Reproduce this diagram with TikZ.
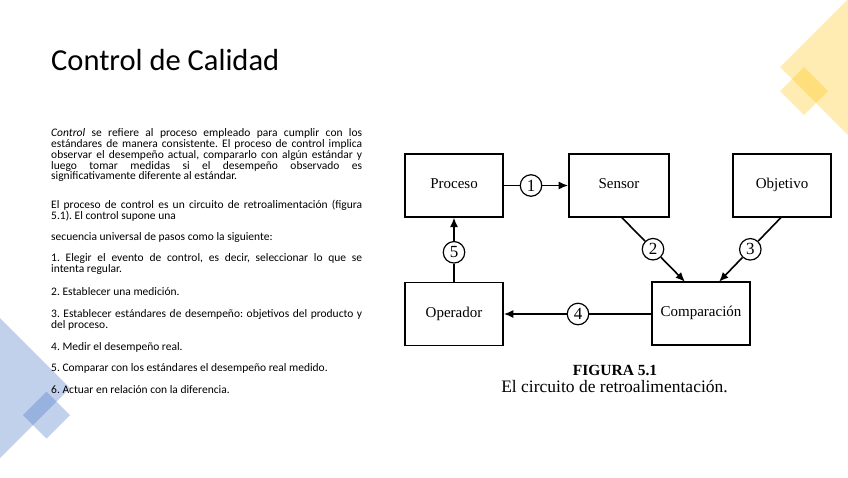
\documentclass[tikz,border=0pt]{standalone}
\usepackage{fontspec}
\setmainfont{Carlito}
\newfontfamily\figfont{Liberation Serif}
\usetikzlibrary{arrows.meta}
\definecolor{deco yellow}{HTML}{FFC000}
\definecolor{deco blue}{HTML}{4472C4}
\frenchspacing
\tikzset{
  txt/.style={anchor=base west, inner sep=0pt, font=\fontsize{11.5}{13}\selectfont},
  blk/.style={draw, line width=1.6pt, rectangle, minimum width=98pt, minimum height=62.5pt, text height=6pt, text depth=0pt, font=\figfont\fontsize{15}{17}\selectfont},
  num/.style={draw, line width=1.2pt, circle, minimum size=21.5pt, inner sep=0pt, font=\figfont\fontsize{17}{19}\selectfont},
  con/.style={line width=1.6pt},
  arr/.style={line width=1.6pt, -{Latex[length=9.5pt,width=8pt]}},
  decoy/.style={fill=deco yellow, fill opacity=0.3, draw=none},
  decob/.style={fill=deco blue, fill opacity=0.33, draw=none},
}
\newcommand{\jline}[1]{\makebox[311pt][s]{#1}}
\begin{document}
\begin{tikzpicture}[x=1pt,y=-1pt]
\useasboundingbox (0,0) rectangle (848,477);
% decorations
\fill[decoy] (780,67) -- (848,-1) -- (916,67) -- (848,135) -- cycle;
\fill[decoy] (780,91) -- (804,67) -- (828,91) -- (804,115) -- cycle;
\fill[decob] (-70,388) -- (0,318) -- (70,388) -- (0,458) -- cycle;
\fill[decob] (23,415) -- (46.5,391.5) -- (70,415) -- (46.5,438.5) -- cycle;
% title
\node[anchor=base west, inner sep=0pt, font=\fontsize{30.5}{34}\selectfont] (title) at (51,70) {Control de Calidad};
% body text
\node[txt] (t1) at (51,136.7) {\jline{\textit{Control} se refiere al proceso empleado para cumplir con los}};
\node[txt] (t2) at (51,147.5) {\jline{estándares de manera consistente. El proceso de control implica}};
\node[txt] (t3) at (51,158.3) {\jline{observar el desempeño actual, compararlo con algún estándar y}};
\node[txt] (t4) at (51,169.0) {\jline{luego tomar medidas si el desempeño observado es}};
\node[txt] (t5) at (51,179.8) {significativamente diferente al estándar.};
\node[txt] (t6) at (51,208.3) {\jline{El proceso de control es un circuito de retroalimentación (figura}};
\node[txt] (t7) at (51,219.0) {5.1). El control supone una};
\node[txt] (t8) at (51,240.0) {secuencia universal de pasos como la siguiente:};
\node[txt] (t9) at (51,261.7) {\jline{1. Elegir el evento de control, es decir, seleccionar lo que se}};
\node[txt] (t10) at (51,272.5) {intenta regular.};
\node[txt] (t11) at (51,295.0) {2. Establecer una medición.};
\node[txt] (t12) at (51,317.0) {\jline{3. Establecer estándares de desempeño: objetivos del producto y}};
\node[txt] (t13) at (51,328.0) {del proceso.};
\node[txt] (t14) at (51,350.0) {4. Medir el desempeño real.};
\node[txt] (t15) at (51,371.7) {5. Comparar con los estándares el desempeño real medido.};
\node[txt] (t16) at (51,393.3) {6. Actuar en relación con la diferencia.};
% diagram boxes
\node[blk] (pro) at (454,185.5) {Proceso};
\node[blk, minimum width=100pt] (sen) at (619,185.5) {Sensor};
\node[blk] (obj) at (782,185.5) {Objetivo};
\node[blk, minimum height=63pt] (ope) at (454,314) {Operador};
\node[blk, minimum height=63pt] (com) at (701,313.3) {Comparación};
% circles
\node[num] (c1) at (531,185.5) {1};
\node[num] (c2) at (653,249.2) {2};
\node[num] (c3) at (750.3,249.3) {3};
\node[num] (c4) at (578,314) {4};
\node[num] (c5) at (454,252.3) {5};
% connector ends
\coordinate (s2) at (621,216.75);
\coordinate (e2) at (685,281.8);
\coordinate (s3) at (781.7,216.75);
\coordinate (e3) at (719,281.8);
\coordinate (s4) at (651.5,314);
% connectors
\draw[con] (pro) -- (c1);
\draw[arr] (c1) -- (sen);
\draw[con] (s2) -- (c2);
\draw[arr] (c2) -- (e2);
\draw[con] (s3) -- (c3);
\draw[arr] (c3) -- (e3);
\draw[con] (s4) -- (c4);
\draw[arr] (c4) -- (ope);
\draw[con] (ope) -- (c5);
\draw[arr] (c5) -- (pro);
% caption
\node[anchor=base, inner sep=0pt, font=\figfont\bfseries\fontsize{15.5}{17}\selectfont] (cap1) at (615,375) {FIGURA 5.1};
\node[anchor=base, inner sep=0pt, font=\figfont\fontsize{17.5}{20}\selectfont] (cap2) at (614.5,392.3) {El circuito de retroalimentación.};
\end{tikzpicture}
\end{document}
